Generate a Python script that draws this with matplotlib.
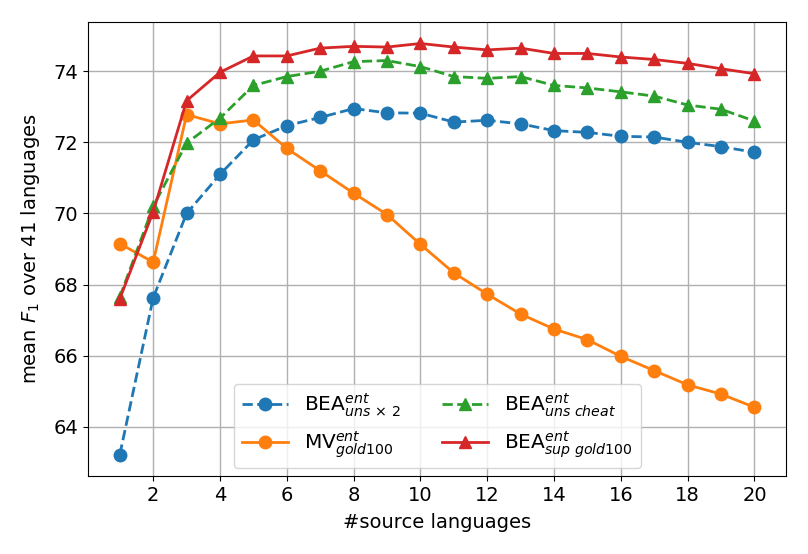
import matplotlib
matplotlib.use("Agg")
import matplotlib.pyplot as plt

x = list(range(1, 21))
bea_uns_x2 = [63.22, 67.63, 70.0, 71.1, 72.07, 72.47, 72.7, 72.95, 72.83, 72.82,
              72.57, 72.62, 72.52, 72.33, 72.28, 72.17, 72.15, 72.0, 71.88, 71.72]
mv_gold100 = [69.15, 68.63, 72.78, 72.52, 72.63, 71.83, 71.2, 70.57, 69.97, 69.13,
              68.33, 67.73, 67.17, 66.75, 66.45, 65.98, 65.58, 65.18, 64.92, 64.55]
bea_uns_cheat = [67.65, 70.2, 71.98, 72.68, 73.6, 73.85, 74.0, 74.27, 74.3, 74.13,
                 73.85, 73.8, 73.85, 73.6, 73.53, 73.42, 73.3, 73.05, 72.93, 72.6]
bea_sup_gold100 = [67.6, 70.05, 73.17, 73.97, 74.43, 74.43, 74.65, 74.7, 74.68, 74.78,
                   74.68, 74.6, 74.65, 74.5, 74.5, 74.4, 74.33, 74.22, 74.07, 73.93]
xticks = list(range(2, 21, 2))
yticks = [64, 66, 68, 70, 72, 74]

plt.rcParams['font.size'] = 14
fig, ax = plt.subplots(figsize=(8.08, 5.54), dpi=100)
fig.subplots_adjust(left=0.109, right=0.973, top=0.96, bottom=0.141)

ax.plot(x, bea_uns_x2, '--o', color='tab:blue', markersize=9, lw=2,
        label=r'BEA$^{ent}_{uns\,\times\,2}$')
ax.plot(x, mv_gold100, '-o', color='tab:orange', markersize=9, lw=2,
        label=r'MV$^{ent}_{gold100}$')
ax.plot(x, bea_uns_cheat, '--^', color='tab:green', markersize=9, lw=2,
        label=r'BEA$^{ent}_{uns\ cheat}$')
ax.plot(x, bea_sup_gold100, '-^', color='tab:red', markersize=9, lw=2,
        label=r'BEA$^{ent}_{sup\ gold100}$')

ax.set_xticks(xticks)
ax.set_yticks(yticks)
ax.set_ylim(62.62, 75.38)
ax.grid(True, color='#b0b0b0', lw=1)
ax.set_xlabel('#source languages', labelpad=6)
ax.set_ylabel(r'mean $F_1$ over 41 languages', labelpad=8)
ax.legend(loc='lower center', ncol=2, fontsize=14.5, borderaxespad=0.4,
          handlelength=2.3)

fig.savefig('out.png')
